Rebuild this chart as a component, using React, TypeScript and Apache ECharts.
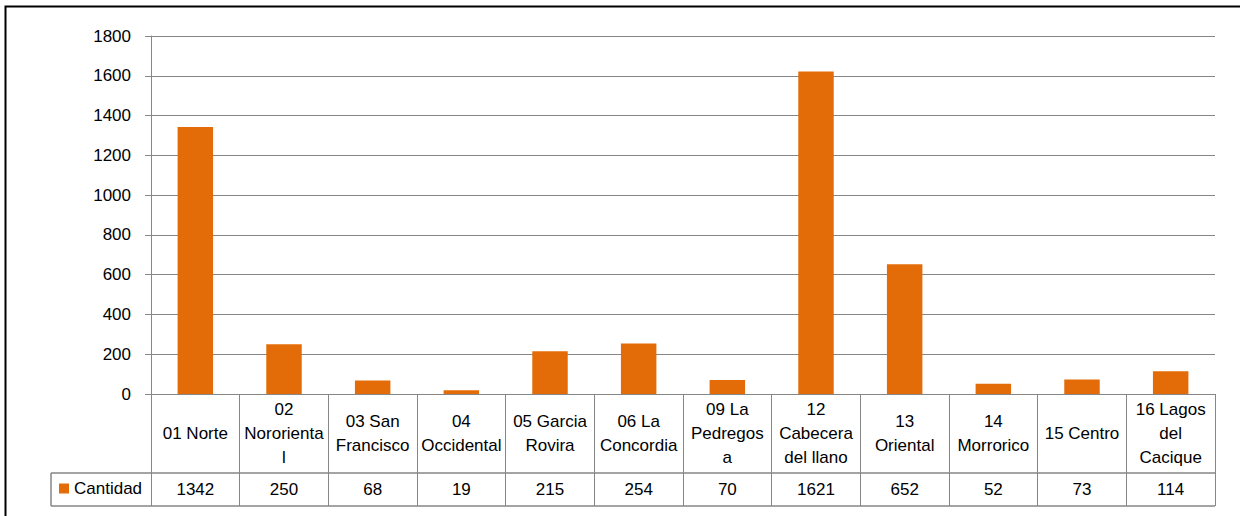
import React, { useEffect, useRef } from "react";
import * as echarts from "echarts";

const categories = [
  "01 Norte",
  "02\nNororienta\nl",
  "03 San\nFrancisco",
  "04\nOccidental",
  "05 Garcia\nRovira",
  "06 La\nConcordia",
  "09 La\nPedregos\na",
  "12\nCabecera\ndel llano",
  "13\nOriental",
  "14\nMorrorico",
  "15 Centro",
  "16 Lagos\ndel\nCacique",
];
const seriesName = "Cantidad";
const cantidad = [1342, 250, 68, 19, 215, 254, 70, 1621, 652, 52, 73, 114];
const yTicks = { min: 0, max: 1800, interval: 200 };

const FONT = '"Liberation Sans", Arial, sans-serif';
const GRID_COLOR = "#868686";
const BAR_COLOR = "#E36C09";

export default function App() {
  const ref = useRef<HTMLDivElement>(null);
  useEffect(() => {
    if (!ref.current) return;
    const chart = echarts.init(ref.current, undefined, { renderer: "svg" });
    const gridLeft = 151;
    const gridRight = 1215;
    const axisY = 394;
    const row1Bottom = 473;
    const row2Bottom = 506;
    chart.setOption({
      animation: false,
      backgroundColor: "#ffffff",
      textStyle: { fontFamily: FONT },
      grid: { left: gridLeft, right: 1240 - gridRight, top: 36, bottom: 516 - axisY },
      legend: {
        data: [seriesName],
        left: 59,
        top: 480,
        padding: 0,
        icon: "rect",
        itemWidth: 10,
        itemHeight: 10,
        textStyle: { fontSize: 17, color: "#000", fontFamily: FONT },
      },
      xAxis: [
        {
          type: "category",
          data: categories,
          position: "bottom",
          axisLine: { show: true, lineStyle: { color: GRID_COLOR, width: 1 } },
          axisTick: {
            show: true,
            length: row2Bottom - axisY,
            lineStyle: { color: GRID_COLOR, width: 1 },
          },
          axisLabel: {
            interval: 0,
            margin: (row1Bottom - axisY) / 2,
            verticalAlign: "middle",
            fontSize: 17,
            lineHeight: 24,
            color: "#000",
            fontFamily: FONT,
          },
        },
        {
          type: "category",
          data: categories,
          position: "bottom",
          axisLine: { show: false },
          axisTick: { show: false },
          axisLabel: {
            interval: 0,
            margin: (row1Bottom + row2Bottom) / 2 - axisY,
            verticalAlign: "middle",
            fontSize: 17,
            color: "#000",
            fontFamily: FONT,
            formatter: (_v: string, i: number) => String(cantidad[i]),
          },
        },
      ],
      yAxis: {
        type: "value",
        min: yTicks.min,
        max: yTicks.max,
        interval: yTicks.interval,
        axisLine: { show: true, lineStyle: { color: GRID_COLOR, width: 1 } },
        axisTick: { show: true, length: 6, lineStyle: { color: GRID_COLOR } },
        splitLine: { show: true, lineStyle: { color: GRID_COLOR, width: 1 } },
        axisLabel: {
          margin: 20,
          fontSize: 17,
          color: "#000",
          fontFamily: FONT,
          formatter: (v: number) => String(v),
        },
      },
      series: [
        {
          name: seriesName,
          type: "bar",
          data: cantidad,
          barWidth: "40%",
          itemStyle: { color: BAR_COLOR },
        },
      ],
      graphic: [
        {
          type: "rect",
          silent: true,
          shape: { x: 5.5, y: 6.5, width: 1400, height: 700 },
          style: { fill: "none", stroke: "#000", lineWidth: 2 },
        },
        {
          type: "line",
          silent: true,
          shape: { x1: 51, y1: row1Bottom, x2: gridRight, y2: row1Bottom },
          style: { stroke: GRID_COLOR, lineWidth: 1.5 },
        },
        {
          type: "line",
          silent: true,
          shape: { x1: 51, y1: row2Bottom, x2: gridRight, y2: row2Bottom },
          style: { stroke: GRID_COLOR, lineWidth: 1.5 },
        },
        {
          type: "line",
          silent: true,
          shape: { x1: 51, y1: row1Bottom, x2: 51, y2: row2Bottom },
          style: { stroke: GRID_COLOR, lineWidth: 1.5 },
        },
      ],
    });
    return () => chart.dispose();
  }, []);
  return (
    <div
      ref={ref}
      style={{ position: "fixed", left: 0, top: 0, width: 1240, height: 516, background: "#fff" }}
    />
  );
}
